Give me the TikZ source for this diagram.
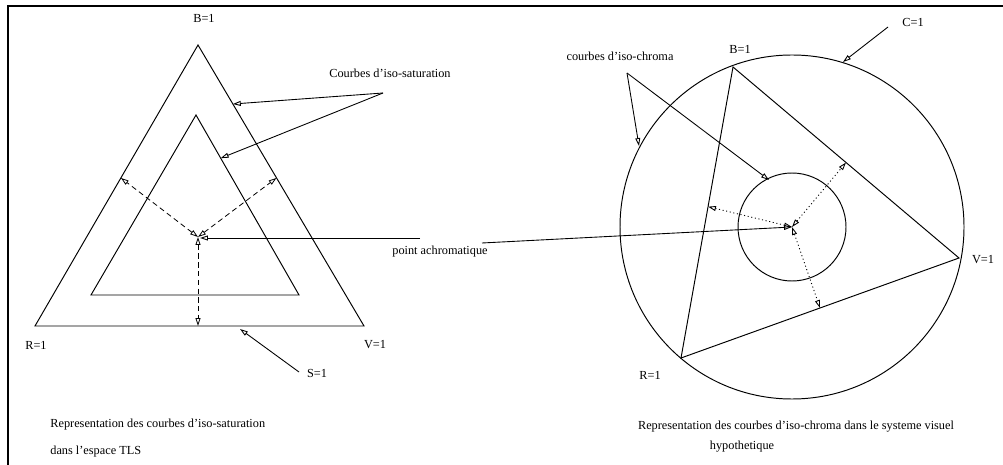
\documentclass[tikz,border=0pt]{standalone}
\usepackage{fontspec}
\setmainfont{Liberation Serif}
\usetikzlibrary{arrows.meta,calc}

\begin{document}
\begin{tikzpicture}[x=0.02cm, y=-0.02cm, font=\fontsize{7}{8}\selectfont, every node/.style={inner sep=0pt}]
\tikzset{
  contour/.style={line width=0.55pt},
  arr/.style={-{Triangle[open,length=4.5pt,width=2.8pt]}, line width=0.5pt},
  dasharr/.style={{Triangle[open,length=4.5pt,width=2.8pt]}-{Triangle[open,length=4.5pt,width=2.8pt]}, line width=0.45pt, dash pattern=on 3pt off 2pt},
  dotarr/.style={{Triangle[open,length=4.5pt,width=2.8pt]}-{Triangle[open,length=4.5pt,width=2.8pt]}, line width=0.5pt, dash pattern=on 0.6pt off 1.5pt}
}
  \useasboundingbox (0,0) rectangle (1003,465);
  \draw[line width=1.2pt] (1003,6) -- (8,6) -- (8,465);

  % espace TLS
  \coordinate (Bo) at (198,45);
  \coordinate (Ro) at (35,326);
  \coordinate (Vo) at (364,326);
  \coordinate (Bi) at (196,115);
  \coordinate (Ri) at (91,295);
  \coordinate (Vi) at (299,295);
  \coordinate (achl) at (198,237);
  \draw[contour] (Bo) -- (Ro) -- (Vo) -- cycle;
  \draw[contour] (Bi) -- (Ri) -- (Vi) -- cycle;
  \node (lblB) at (204,18) {B=1};
  \node (lblR) at (36,345) {R=1};
  \node (lblV) at (375,345) {V=1};
  \node (lblS) at (317,373) {S=1};
  \node (isosat) at (390,73) {Courbes d'iso-saturation};
  \node (ptach) at (440,252) {point achromatique};
  \coordinate (isosatt) at (383,93);
  \coordinate (Stail) at (299,372);
  \coordinate (achtail) at (420,238);
  \coordinate (achtailr) at (482,243);
  \draw[arr] (isosatt) -- ($(Vo)!0.79!(Bo)$);
  \draw[arr] (isosatt) -- ($(Vi)!0.76!(Bi)$);
  \draw[arr] (Stail) -- (240,329);
  \draw[arr] (achtail) -- ($(achl)+(2,1)$);
  \draw[dasharr] (achl) -- ($(Ro)!0.527!(Bo)$);
  \draw[dasharr] (achl) -- ($(Vo)!0.527!(Bo)$);
  \draw[dasharr] (achl) -- (achl |- Ro);

  % systeme visuel hypothetique
  \coordinate (achr) at (792,227);
  \coordinate (Bc) at (733,67);
  \coordinate (Vc) at (959,258);
  \coordinate (Rc) at (681,358);
  \draw[contour] (achr) circle[radius=172];
  \draw[contour] (achr) circle[radius=54];
  \draw[contour] (Bc) -- (Rc) -- (Vc) -- cycle;
  \node (lblBc) at (740,49) {B=1};
  \node (lblVc) at (983,260) {V=1};
  \node (lblRc) at (650,375) {R=1};
  \node (lblC) at (913,22) {C=1};
  \node (isochr) at (620,56) {courbes d'iso-chroma};
  \coordinate (Ctail) at (888,27);
  \coordinate (isochrt) at (627,73);
  \draw[arr] (Ctail) -- (843,62);
  \draw[arr] (isochrt) -- (639,146);
  \draw[arr] (isochrt) -- (769,180);
  \draw[arr] (achtailr) -- (achr);
  \draw[dotarr] (achr) -- ($(Rc)!0.52!(Bc)$);
  \draw[dotarr] (achr) -- ($(Bc)!0.5!(Vc)$);
  \draw[dotarr] (achr) -- ($(Rc)!0.5!(Vc)$);

  % legendes
  \node[anchor=west] (legsat) at (50,425) {Representation des courbes d'iso-saturation};
  \node[anchor=west] (legtls) at (50,452) {dans l'espace TLS};
  \node (legchr) at (796,427) {Representation des courbes d'iso-chroma dans le systeme visuel};
  \node (leghyp) at (742,447) {hypothetique};
\end{tikzpicture}
\end{document}
